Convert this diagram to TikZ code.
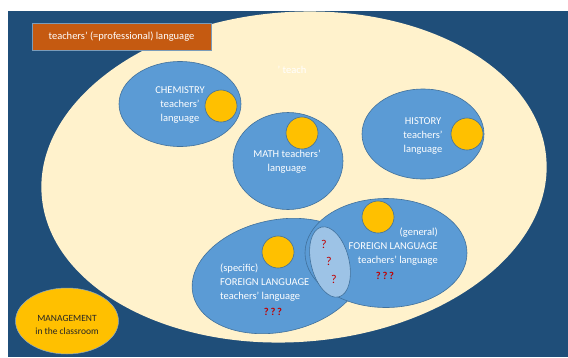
\documentclass[tikz,border=0pt]{standalone}
\usepackage{fontspec}
\setmainfont{Carlito}
\usetikzlibrary{shapes.geometric}
\definecolor{bgblue}{HTML}{1F4E79}
\definecolor{cream}{HTML}{FFF2CC}
\definecolor{midblue}{HTML}{5B9BD5}
\definecolor{lightblue}{HTML}{9DC3E6}
\definecolor{edgeblue}{HTML}{41719C}
\definecolor{gold}{HTML}{FFC000}
\definecolor{rust}{HTML}{C55A11}
\definecolor{qred}{HTML}{C00000}
\begin{document}
\begin{tikzpicture}[x=1pt,y=-1pt,
  blob/.style={ellipse, draw=edgeblue, line width=0.6pt, fill=midblue, inner sep=0pt},
  sun/.style={circle, draw=edgeblue, line width=0.6pt, fill=gold, inner sep=0pt, minimum size=32pt},
  lbl/.style={inner sep=0pt, text=white, font=\fontsize{10.5}{14}\selectfont},
  qm/.style={inner sep=0pt, text=qred, font=\fontsize{10.5}{14}\selectfont\bfseries},
  qs/.style={inner sep=0pt, text=qred, font=\fontsize{12}{14}\selectfont}]
\useasboundingbox (0,0) rectangle (568,357);
\fill[bgblue] (8,11) rectangle (568,357);
\begin{scope}
  \clip (8,11) rectangle (568,357);
  \node[ellipse, fill=cream, inner sep=0pt, minimum width=506pt, minimum height=330pt, rotate=4] (world) at (294,177) {};
\end{scope}
% management
\node[ellipse, fill=gold, draw=edgeblue!60, line width=0.5pt, inner sep=0pt, minimum width=103pt, minimum height=66pt] (mgmt) at (67,321) {};
% subject ellipses
\node[blob, minimum width=122pt, minimum height=85pt] (chem) at (180,104) {};
\node[blob, minimum width=110pt, minimum height=97pt] (math) at (288,161) {};
\node[blob, minimum width=122pt, minimum height=90pt] (hist) at (423,134) {};
\node[blob, minimum width=174pt, minimum height=112pt, rotate=12] (spec) at (278,276) {};
\node[blob, minimum width=162pt, minimum height=109pt] (gen) at (386,253) {};
\node[ellipse, draw=edgeblue, line width=0.6pt, fill=lightblue, inner sep=0pt, minimum width=38pt, minimum height=72pt, rotate=14] (overlap) at (330,262) {};
% yellow circles
\node[sun] (chemsun) at (221,106) {};
\node[sun] (mathsun) at (302,133) {};
\node[sun] (histsun) at (467,134) {};
\node[sun] (specsun) at (278,252) {};
\node[sun] (gensun) at (378,217) {};
% title box
\node[fill=rust, draw=edgeblue!70, line width=0.4pt, minimum width=179pt, minimum height=27pt, inner sep=0pt, text=white, font=\fontsize{10.5}{14}\selectfont] (title) at (121.5,36.5) {teachers’ (=professional) language};
\node[lbl] (teach) at (292,70) {’ teach};
% texts
\node[lbl, align=center] (chemtxt) at (180,105) {CHEMISTRY\\teachers’\\language};
\node[lbl, align=center] (mathtxt) at (287,162) {MATH teachers’\\language};
\node[lbl, align=center] (histtxt) at (423,136) {HISTORY\\teachers’\\language};
\node[lbl, align=left, anchor=west] (spectxt) at (220,283) {(specific)\\FOREIGN LANGUAGE\\teachers’ language};
\node[qm] (specq) at (273,312) {?\kern1.8pt?\kern1.8pt?};
\node[lbl, align=right, anchor=east] (gentxt) at (438,247) {(general)\\FOREIGN LANGUAGE\\teachers’ language};
\node[qm] (genq) at (385,276) {?\kern1.8pt?\kern1.8pt?};
\node[qs] (q1) at (324,244) {?};
\node[qs] (q2) at (329,261) {?};
\node[qs] (q3) at (334,279) {?};
\node[inner sep=0pt, align=center, text=black!85, font=\fontsize{9.5}{13}\selectfont] (mgmttxt) at (67,324.5) {MANAGEMENT\\in the classroom};
\end{tikzpicture}
\end{document}
